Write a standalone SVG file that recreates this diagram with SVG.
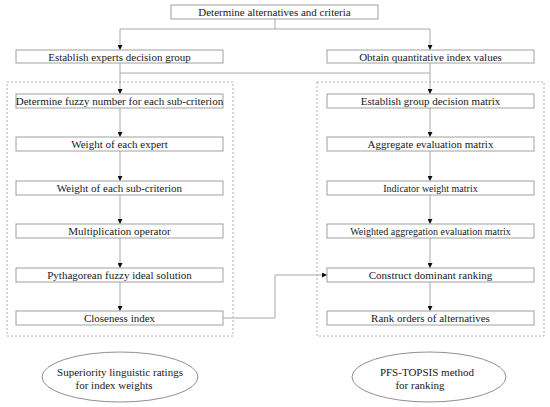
<svg xmlns="http://www.w3.org/2000/svg" width="550" height="407" viewBox="0 0 550 407" font-family="Liberation Serif, Times New Roman, serif">
<defs>
<marker id="arr" viewBox="0 0 6 6" refX="6" refY="3" markerWidth="5" markerHeight="5" orient="auto" markerUnits="userSpaceOnUse">
<path d="M0,0 L6,3 L0,6 Z" fill="#111"/>
</marker>
<style>
.box{fill:#fff;stroke:#a0a0a0;stroke-width:1}
.dash{fill:none;stroke:#b0b0b0;stroke-width:1;stroke-dasharray:2,2}
.ln{fill:none;stroke:#a8a8a8;stroke-width:1}
.ell{fill:#fff;stroke:#909090;stroke-width:1}
</style>
</defs>
<rect width="550" height="407" fill="#fff"/>
<rect class="dash" x="7" y="82" width="226" height="254"/>
<rect class="dash" x="317" y="82" width="227" height="254"/>
<g id="connectors">
<path class="ln" d="M275,19 V29 M120,29 H430"/>
<path class="ln" d="M120,29 V50" marker-end="url(#arr)"/>
<path class="ln" d="M430,29 V50" marker-end="url(#arr)"/>
<path class="ln" d="M120,63 V73 H430"/>
<path class="ln" d="M120,73 V94" marker-end="url(#arr)"/>
<path class="ln" d="M430,63 V94" marker-end="url(#arr)"/>
<path class="ln" d="M120,108 V137" marker-end="url(#arr)"/>
<path class="ln" d="M120,151 V181" marker-end="url(#arr)"/>
<path class="ln" d="M120,195 V224" marker-end="url(#arr)"/>
<path class="ln" d="M120,238 V268" marker-end="url(#arr)"/>
<path class="ln" d="M120,282 V311" marker-end="url(#arr)"/>
<path class="ln" d="M430,108 V137" marker-end="url(#arr)"/>
<path class="ln" d="M430,151 V181" marker-end="url(#arr)"/>
<path class="ln" d="M430,195 V224" marker-end="url(#arr)"/>
<path class="ln" d="M430,238 V268" marker-end="url(#arr)"/>
<path class="ln" d="M430,282 V311" marker-end="url(#arr)"/>
<path class="ln" d="M223,318 H275 V275 H327" marker-end="url(#arr)"/>
</g>
<g font-family="Liberation Serif, Times New Roman, serif" font-size="11" fill="#1a1a1a" text-anchor="middle">
<g id="top"><rect class="box" x="171" y="5" width="207" height="14"/><text x="274.5" y="16">Determine alternatives and criteria</text></g>
<g id="experts"><rect class="box" x="16" y="50" width="207" height="13"/><text x="119.5" y="60.5">Establish experts decision group</text></g>
<g id="quant"><rect class="box" x="327" y="50" width="207" height="13"/><text x="430.5" y="60.5">Obtain quantitative index values</text></g>
<g id="l1"><rect class="box" x="16" y="94" width="207" height="14"/><text x="119.5" y="105">Determine fuzzy number for each sub-criterion</text></g>
<g id="l2"><rect class="box" x="16" y="137" width="207" height="14"/><text x="119.5" y="148">Weight of each expert</text></g>
<g id="l3"><rect class="box" x="16" y="181" width="207" height="14"/><text x="119.5" y="192">Weight of each sub-criterion</text></g>
<g id="l4"><rect class="box" x="16" y="224" width="207" height="14"/><text x="119.5" y="235">Multiplication operator</text></g>
<g id="l5"><rect class="box" x="16" y="268" width="207" height="14"/><text x="119.5" y="279">Pythagorean fuzzy ideal solution</text></g>
<g id="l6"><rect class="box" x="16" y="311" width="207" height="14"/><text x="119.5" y="322">Closeness index</text></g>
<g id="r1"><rect class="box" x="327" y="94" width="207" height="14"/><text x="430.5" y="105">Establish group decision matrix</text></g>
<g id="r2"><rect class="box" x="327" y="137" width="207" height="14"/><text x="430.5" y="148">Aggregate evaluation matrix</text></g>
<g id="r3"><rect class="box" x="327" y="181" width="207" height="14"/><text font-size="10" x="430.5" y="192">Indicator weight matrix</text></g>
<g id="r4"><rect class="box" x="327" y="224" width="207" height="14"/><text font-size="10" x="430.5" y="235">Weighted aggregation evaluation matrix</text></g>
<g id="r5"><rect class="box" x="327" y="268" width="207" height="14"/><text x="430.5" y="279">Construct dominant ranking</text></g>
<g id="r6"><rect class="box" x="327" y="311" width="207" height="14"/><text x="430.5" y="322">Rank orders of  alternatives</text></g>
<g id="ellL"><ellipse class="ell" cx="120" cy="377" rx="78" ry="25"/><text x="120" y="376">Superiority linguistic ratings</text><text x="114" y="389">for index weights</text></g>
<g id="ellR"><ellipse class="ell" cx="429" cy="377" rx="77" ry="25"/><text x="427" y="376">PFS-TOPSIS method</text><text x="420" y="389">for ranking</text></g>
</g>
</svg>
